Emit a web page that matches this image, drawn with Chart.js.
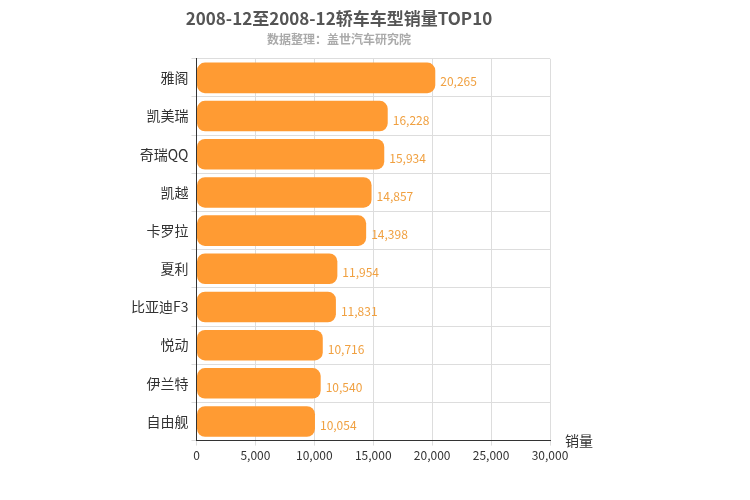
<!DOCTYPE html>
<html>
<head>
<meta charset="utf-8">
<script src="https://cdn.jsdelivr.net/npm/chart.js@4"></script>
<style>
  body { margin: 0; background: #fff; }
</style>
</head>
<body>
<canvas id="grafico" width="750" height="500"></canvas>
<script>
// Datos
const modelos = ['雅阁', '凯美瑞', '奇瑞QQ', '凯越', '卡罗拉', '夏利', '比亚迪F3', '悦动', '伊兰特', '自由舰'];
const ventas = [20265, 16228, 15934, 14857, 14398, 11954, 11831, 10716, 10540, 10054];
const ticksX = [0, 5000, 10000, 15000, 20000, 25000, 30000];

const fuente = '"Noto Sans CJK SC", "Noto Sans", sans-serif';

// Etiquetas de valor y nombre del eje
const etiquetas = {
  id: 'etiquetas',
  afterDatasetsDraw(chart) {
    const ctx = chart.ctx;
    const meta = chart.getDatasetMeta(0);
    ctx.save();
    ctx.font = '12px ' + fuente;
    ctx.fillStyle = '#f0a040';
    ctx.textAlign = 'left';
    ctx.textBaseline = 'middle';
    meta.data.forEach((bar, i) => {
      ctx.fillText(ventas[i].toLocaleString('en-US'), bar.x + 5, bar.y + 4);
    });
    const area = chart.chartArea;
    ctx.font = '14px ' + fuente;
    ctx.fillStyle = '#333';
    ctx.fillText('销量', area.right + 15, area.bottom);
    ctx.restore();
  }
};

new Chart(document.getElementById('grafico'), {
  type: 'bar',
  data: {
    labels: modelos,
    datasets: [{
      data: ventas,
      backgroundColor: '#ff9b33',
      borderRadius: 8,
      borderSkipped: false,
      categoryPercentage: 0.8,
      barPercentage: 1
    }]
  },
  options: {
    indexAxis: 'y',
    responsive: false,
    animation: false,
    layout: { padding: { left: 128, right: 200, top: 0, bottom: 34 } },
    plugins: {
      legend: { display: false },
      tooltip: { enabled: false },
      title: {
        display: true,
        text: '2008-12至2008-12轿车车型销量TOP10',
        color: '#555',
        font: { family: fuente, size: 17, weight: 'bold' },
        padding: { top: 8, bottom: 4 }
      },
      subtitle: {
        display: true,
        text: '数据整理：盖世汽车研究院',
        color: '#aaa',
        font: { family: fuente, size: 12, weight: 'bold' },
        padding: { bottom: 12 }
      }
    },
    scales: {
      x: {
        min: 0,
        max: 30000,
        afterBuildTicks(axis) { axis.ticks = ticksX.map(v => ({ value: v })); },
        grid: { color: '#ddd', drawTicks: true, tickLength: 5 },
        border: { color: '#333' },
        ticks: {
          color: '#333',
          maxRotation: 0,
          font: { family: fuente, size: 12 },
          callback: v => v.toLocaleString('en-US')
        }
      },
      y: {
        grid: { color: '#ddd', offset: true, tickLength: 5 },
        border: { color: '#333' },
        ticks: { color: '#333', font: { family: fuente, size: 14 } }
      }
    }
  },
  plugins: [etiquetas]
});
</script>
</body>
</html>
